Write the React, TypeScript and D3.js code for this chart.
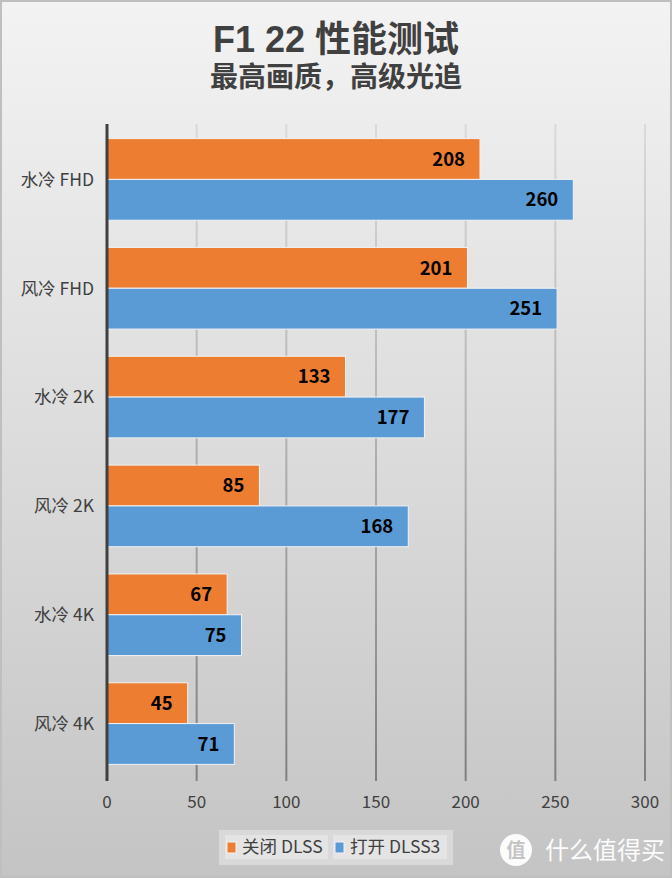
import React from "react";
import * as d3 from "d3";

const categories = ["水冷 FHD", "风冷 FHD", "水冷 2K", "风冷 2K", "水冷 4K", "风冷 4K"];
const seriesNames = ["关闭 DLSS", "打开 DLSS3"];
const dlssOff = [208, 201, 133, 85, 67, 45];
const dlssOn = [260, 251, 177, 168, 75, 71];
const xTicks = [0, 50, 100, 150, 200, 250, 300];
const colors = ["#ED7D31", "#5B9BD5"];
const title = "F1 22 性能测试";
const subtitle = "最高画质，高级光追";

const W = 672;
const H = 878;
const FONT = "'Noto Sans CJK SC', 'Noto Sans', sans-serif";
const TITLE_FONT = "'Liberation Sans', 'Noto Sans CJK SC', sans-serif";

export default function App() {
  const x = d3.scaleLinear().domain([0, 300]).range([107, 645]);
  const y = d3.scaleBand<string>().domain(categories).range([125, 778]).paddingInner(0.25).paddingOuter(0.125);
  const ys = d3.scaleBand<string>().domain(seriesNames).range([0, y.bandwidth()]).padding(0);
  const values = [dlssOff, dlssOn];

  return (
    <svg width={W} height={H} style={{ position: "absolute", left: 0, top: 0 }} fontFamily={FONT}>
      <defs>
        <linearGradient id="bg" x1="0" y1="0" x2="0" y2="1">
          <stop offset="0" stopColor="#f3f3f3" />
          <stop offset="0.5" stopColor="#dcdcdc" />
          <stop offset="1" stopColor="#c4c4c4" />
        </linearGradient>
        <linearGradient id="grid" gradientUnits="userSpaceOnUse" x1="0" y1="124" x2="0" y2="781">
          <stop offset="0" stopColor="#dadada" />
          <stop offset="0.6" stopColor="#a6a6a6" />
          <stop offset="1" stopColor="#7f7f7f" />
        </linearGradient>
      </defs>
      <rect x={0} y={0} width={W} height={H} fill="url(#bg)" />
      <rect x={1} y={1} width={W - 2} height={H - 2} fill="none" stroke="#bfbfbf" strokeWidth={2} />

      <text x={336} y={52} textAnchor="middle" fontFamily={TITLE_FONT} fontSize={36} fontWeight="bold" fill="#404040">{title}</text>
      <text x={336} y={87} textAnchor="middle" fontFamily={TITLE_FONT} fontSize={28} fontWeight="bold" fill="#404040">{subtitle}</text>

      {xTicks.filter((t) => t !== 0).map((t) => (
        <line key={"g" + t} x1={x(t)} x2={x(t)} y1={124} y2={781} stroke="url(#grid)" strokeWidth={2} />
      ))}

      {categories.map((c, i) => (
        <g key={c}>
          {seriesNames.map((s, k) => {
            const v = values[k][i];
            const by = (y(c) as number) + (ys(s) as number);
            const bh = ys.bandwidth();
            return (
              <g key={s}>
                <rect x={x(0)} y={by} width={x(v) - x(0)} height={bh} fill={colors[k]} stroke="#f2f2f2" strokeWidth={1} />
                <text x={x(v) - 15} y={by + bh / 2} dy="0.36em" textAnchor="end" fontSize={18.5} fontWeight="bold" fill="#000">{v}</text>
              </g>
            );
          })}
          <text x={94} y={(y(c) as number) + y.bandwidth() / 2} dy="0.36em" textAnchor="end" fontSize={17.5} fill="#404040">{c}</text>
        </g>
      ))}

      <line x1={x(0)} x2={x(0)} y1={124} y2={781} stroke="#404040" strokeWidth={3} />

      {xTicks.map((t) => (
        <text key={"t" + t} x={x(t)} y={802} dy="0.36em" textAnchor="middle" fontSize={17} fill="#404040">{t}</text>
      ))}

      <g>
        <rect x={219} y={830} width={234} height={35} fill="#d9d9d9" />
        {seriesNames.map((s, k) => {
          const bx = k === 0 ? 225 : 333;
          const bw = k === 0 ? 103 : 114;
          return (
            <g key={s}>
              <rect x={bx} y={835} width={bw} height={24} fill="#e4e4e4" />
              <rect x={bx + 2} y={842} width={9} height={11} fill={colors[k]} stroke="#f2f2f2" strokeWidth={1} />
              <text x={bx + 17} y={847} dy="0.36em" fontSize={17.5} fill="#404040">{s}</text>
            </g>
          );
        })}
      </g>

      <g opacity={0.95}>
        <circle cx={516} cy={850} r={16} fill="#ffffff" />
        <text x={516} y={850} dy="0.36em" textAnchor="middle" fontSize={19} fontWeight="bold" fill="#c4c4c4">值</text>
        <text x={545} y={850} dy="0.36em" fontSize={24} fill="#ffffff">什么值得买</text>
      </g>
    </svg>
  );
}
